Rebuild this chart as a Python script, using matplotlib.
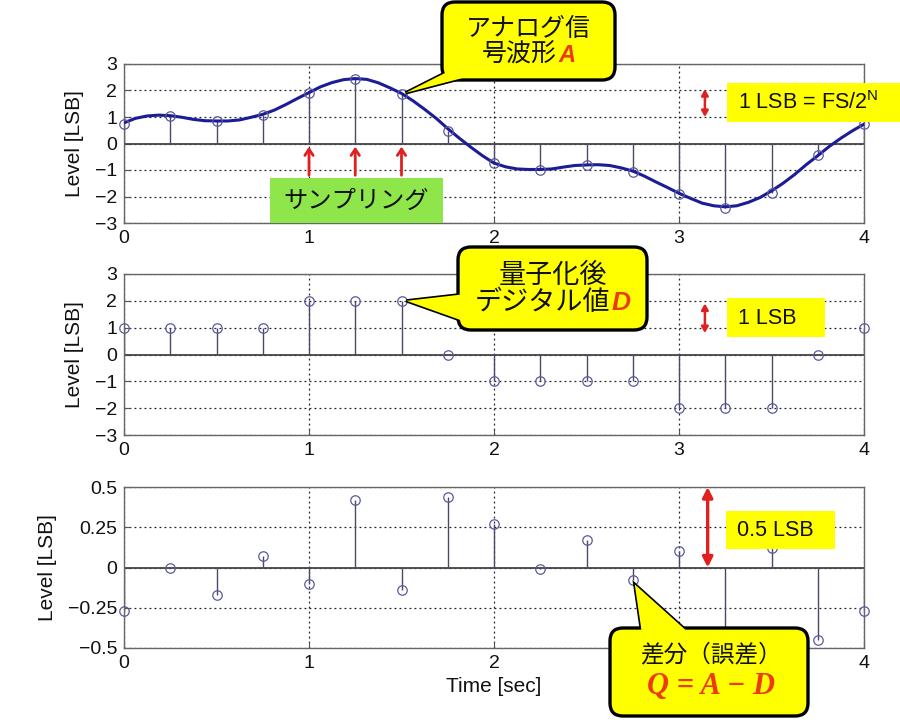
import matplotlib
matplotlib.use('Agg')
import matplotlib.pyplot as plt
from matplotlib.patches import FancyBboxPatch, Polygon, Rectangle
from matplotlib.offsetbox import TextArea, VPacker, HPacker, AnnotationBbox

plt.rcParams['font.family'] = ['Liberation Sans', 'Noto Sans CJK JP', 'DejaVu Sans']
plt.rcParams['mathtext.fontset'] = 'custom'
plt.rcParams['mathtext.rm'] = 'Liberation Sans'

# ---------------- data ----------------
t = [0.0, 0.25, 0.5, 0.75, 1.0, 1.25, 1.5, 1.75, 2.0, 2.25, 2.5, 2.75,
     3.0, 3.25, 3.5, 3.75, 4.0]
A_samples = [0.74, 1.03, 0.84, 1.09, 1.9, 2.43, 1.87, 0.47, -0.73, -0.99,
             -0.82, -1.06, -1.9, -2.43, -1.86, -0.45, 0.73]
D_values = [1, 1, 1, 1, 2, 2, 2, 0, -1, -1, -1, -1, -2, -2, -2, 0, 1]
Q_values = [-0.27, 0.0, -0.17, 0.07, -0.10, 0.42, -0.14, 0.44, 0.27, -0.01,
            0.17, -0.08, 0.10, -0.45, 0.12, -0.45, -0.27]

t_curve = [0.0, 0.0625, 0.125, 0.1875, 0.25, 0.3125, 0.375, 0.4375,
           0.5, 0.5625, 0.625, 0.6875, 0.75, 0.8125, 0.875, 0.9375,
           1.0, 1.0625, 1.125, 1.1875, 1.25, 1.3125, 1.375, 1.4375,
           1.5, 1.5625, 1.625, 1.6875, 1.75, 1.8125, 1.875, 1.9375,
           2.0, 2.0625, 2.125, 2.1875, 2.25, 2.3125, 2.375, 2.4375,
           2.5, 2.5625, 2.625, 2.6875, 2.75, 2.8125, 2.875, 2.9375,
           3.0, 3.0625, 3.125, 3.1875, 3.25, 3.3125, 3.375, 3.4375,
           3.5, 3.5625, 3.625, 3.6875, 3.75, 3.8125, 3.875, 3.9375, 4.0]
A_curve = [0.78, 0.95, 1.04, 1.07, 1.05, 0.99, 0.91, 0.86,
           0.85, 0.85, 0.89, 0.99, 1.1, 1.26, 1.47, 1.7,
           1.92, 2.14, 2.3, 2.41, 2.45, 2.42, 2.29, 2.1,
           1.89, 1.61, 1.29, 0.95, 0.56, 0.2, -0.14, -0.46,
           -0.74, -0.88, -0.96, -0.98, -0.98, -0.96, -0.89, -0.83,
           -0.81, -0.8, -0.83, -0.92, -1.04, -1.23, -1.45, -1.66,
           -1.88, -2.07, -2.25, -2.35, -2.39, -2.35, -2.22, -2.04,
           -1.79, -1.5, -1.17, -0.8, -0.46, -0.11, 0.2, 0.48, 0.73]

x_ticks = [0, 1, 2, 3, 4]
x_ticklabels = ['0', '1', '2', '3', '4']
y_ticks_lsb = [-3, -2, -1, 0, 1, 2, 3]
y_ticklabels_lsb = ['\u22123', '\u22122', '\u22121', '0', '1', '2', '3']
y_ticks_q = [-0.5, -0.25, 0, 0.25, 0.5]
y_ticklabels_q = ['\u22120.5', '\u22120.25', '0', '0.25', '0.5']

# ---------------- layout ----------------
W, H = 900, 726
fig = plt.figure(figsize=(9, 7.26), dpi=100)
fig.patch.set_facecolor('white')


def ax_rect(left, top, right, bottom):
    return [left / W, 1 - bottom / H, (right - left) / W, (bottom - top) / H]


def pix(x, y):
    return (x / 100.0, (H - y) / 100.0)


ax1 = fig.add_axes(ax_rect(124, 64, 864, 223))
ax2 = fig.add_axes(ax_rect(124, 274, 864, 435))
ax3 = fig.add_axes(ax_rect(124, 487, 864, 648))

TICK_FS = 14
LABEL_FS = 15


def style(ax, ylim, yticks, yticklabels):
    ax.set_xlim(0, 4)
    ax.set_ylim(*ylim)
    ax.set_xticks(x_ticks)
    ax.set_xticklabels(x_ticklabels)
    ax.set_yticks(yticks)
    ax.set_yticklabels(yticklabels)
    ax.grid(True, linestyle=(0, (1.5, 2.5)), color='#222222', lw=0.9)
    ax.set_axisbelow(True)
    ax.tick_params(direction='in', length=4, labelsize=TICK_FS, pad=5,
                   color='#555555', labelcolor='#111111')
    for s in ax.spines.values():
        s.set_color('#666666')
        s.set_linewidth(1.0)
    ax.set_ylabel('Level [LSB]', fontsize=LABEL_FS, labelpad=8, color='#111111')


def stems(ax, y):
    ax.axhline(0, color='#444444', lw=1.3, zorder=2)
    ax.vlines(t, 0, y, color='#4a4a66', lw=1.0, zorder=2)
    ax.plot(t, y, 'o', mfc='none', mec='#5a5aa0', ms=6.8, mew=0.9,
            zorder=4, clip_on=False)


style(ax1, (-3, 3), y_ticks_lsb, y_ticklabels_lsb)
style(ax2, (-3, 3), y_ticks_lsb, y_ticklabels_lsb)
style(ax3, (-0.5, 0.5), y_ticks_q, y_ticklabels_q)

# in the bottom panel the tick label "3" is hidden behind the callout
for lab in ax3.get_xticklabels():
    if lab.get_text() == '3':
        lab.set_visible(False)

stems(ax1, A_samples)
ax1.plot(t_curve, A_curve, color='#1c1c96', lw=2.2, zorder=3,
         solid_joinstyle='round', solid_capstyle='round')
stems(ax2, D_values)
stems(ax3, Q_values)

ax3.set_xlabel('Time [sec]', fontsize=LABEL_FS, labelpad=4, color='#111111')

RED = '#e02020'
YEL = '#ffff00'

# red up arrows (sampling instants)
for tt in t[4:7]:
    ax1.annotate('', xy=(tt, -0.12), xytext=(tt, -1.2),
                 arrowprops=dict(arrowstyle='->,head_length=0.45,head_width=0.3',
                                 color=RED, lw=2.0, shrinkA=0, shrinkB=0))

# double arrows
ax1.annotate('', xy=(3.14, 2.05), xytext=(3.14, 1.0),
             arrowprops=dict(arrowstyle='<|-|>,head_length=0.35,head_width=0.2',
                             color=RED, lw=1.8, shrinkA=0, shrinkB=0))
ax2.annotate('', xy=(3.14, 1.9), xytext=(3.14, 0.8),
             arrowprops=dict(arrowstyle='<|-|>,head_length=0.35,head_width=0.2',
                             color=RED, lw=1.8, shrinkA=0, shrinkB=0))
ax3.annotate('', xy=(3.155, 0.5), xytext=(3.155, 0.0),
             arrowprops=dict(arrowstyle='<|-|>,head_length=0.6,head_width=0.3',
                             color=RED, lw=2.4, shrinkA=0, shrinkB=0))


def plain_box(x0, y0, x1, y1, color):
    r = Rectangle(pix(x0, y1), (x1 - x0) / 100.0, (y1 - y0) / 100.0,
                  transform=fig.dpi_scale_trans, fc=color, ec='none', zorder=10)
    fig.add_artist(r)


JP = ['Noto Sans CJK JP', 'DejaVu Sans']

plain_box(270, 178, 443, 223, '#8fe64a')
fig.text(356 / W, 1 - 201 / H, 'サンプリング', family=JP, fontsize=17.5,
         ha='center', va='center', zorder=13, color='#111111')

plain_box(727, 83, 900, 122, YEL)
fig.text(738 / W, 1 - 103 / H, r'1 LSB = FS/2$^{\mathrm{N}}$', fontsize=15.5,
         ha='left', va='center', zorder=13, color='#111111')

plain_box(727, 298, 825, 337, YEL)
fig.text(738 / W, 1 - 318 / H, '1 LSB', fontsize=15.5,
         ha='left', va='center', zorder=13, color='#111111')

plain_box(726, 511, 835, 549, YEL)
fig.text(737 / W, 1 - 530 / H, '0.5 LSB', fontsize=15.5,
         ha='left', va='center', zorder=13, color='#111111')


def data_to_inch(ax, x, y, dx=0, dy=0):
    px = ax.transData.transform((x, y))
    px = (px[0] + dx, px[1] + dy)
    return fig.dpi_scale_trans.inverted().transform(px)


def callout(box, base, tip, content, r=13, cx_off=0, cy_off=0):
    x0, y0, x1, y1 = box
    pts = [pix(*base[0]), tuple(tip), pix(*base[1])]
    fig.add_artist(Polygon(pts, closed=True, transform=fig.dpi_scale_trans,
                           fc=YEL, ec='black', lw=2.4, joinstyle='miter',
                           zorder=10))
    fig.add_artist(FancyBboxPatch(pix(x0, y1), (x1 - x0) / 100.0, (y1 - y0) / 100.0,
                                  boxstyle='round,pad=0,rounding_size=%f' % (r / 100.0),
                                  transform=fig.dpi_scale_trans, fc=YEL,
                                  ec='black', lw=2.4, zorder=11))
    fig.add_artist(Polygon(pts, closed=True, transform=fig.dpi_scale_trans,
                           fc=YEL, ec='none', zorder=12))
    ab = AnnotationBbox(content, pix((x0 + x1) / 2.0 + cx_off, (y0 + y1) / 2.0 + cy_off),
                        xycoords=fig.dpi_scale_trans, frameon=False,
                        box_alignment=(0.5, 0.5), zorder=13, pad=0)
    fig.add_artist(ab)


def jp(size):
    return dict(family=JP, fontsize=size, color='#111111')


def emph(size, fam='Liberation Sans'):
    return dict(family=[fam], fontsize=size, color='#ee3a0c',
                weight='bold', style='italic')


# top callout: analog waveform A
c1 = VPacker(children=[TextArea('アナログ信', textprops=jp(18)),
                       HPacker(children=[TextArea('号波形', textprops=jp(18)),
                                         TextArea('A', textprops=emph(17))],
                               align='baseline', pad=0, sep=1)],
             align='center', pad=0, sep=0)
callout((442, 2, 615, 80), ((447, 72), (478, 74)),
        data_to_inch(ax1, t[6], A_samples[6], dx=4, dy=1), c1, cy_off=1)

# middle callout: quantized digital value D
c2 = VPacker(children=[TextArea('量子化後', textprops=jp(19.5)),
                       HPacker(children=[TextArea('デジタル値', textprops=jp(19.5)),
                                         TextArea('D', textprops=emph(19))],
                               align='baseline', pad=0, sep=1)],
             align='center', pad=0, sep=0)
callout((458, 247, 647, 330), ((466, 294), (466, 322)),
        data_to_inch(ax2, t[6], D_values[6], dx=5, dy=0), c2)

# bottom callout: difference Q = A - D
c3 = VPacker(children=[TextArea('差分（誤差）', textprops=jp(17)),
                       TextArea('Q = A \u2212 D', textprops=emph(22, 'Liberation Serif'))],
             align='center', pad=0, sep=4)
callout((610, 628, 808, 716), ((642, 634), (690, 634)),
        data_to_inch(ax3, t[11], Q_values[11], dx=2, dy=-4), c3, cx_off=2)

fig.savefig('out.png', dpi=100, facecolor='white')
